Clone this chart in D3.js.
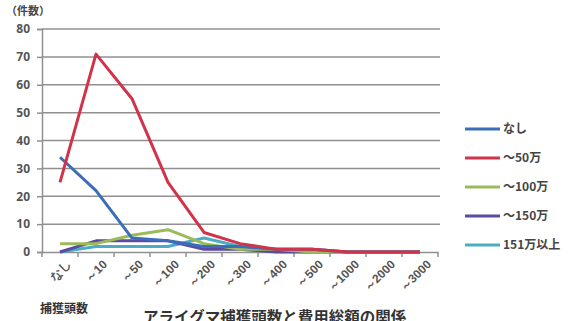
<!DOCTYPE html>
<html><head><meta charset="utf-8">
<script src="https://cdn.jsdelivr.net/npm/d3@7"></script>
<style>body{margin:0;background:#fff;font-family:"Noto Sans CJK JP","Noto Sans",sans-serif;}</style>
</head><body><svg id="c" width="579" height="321"></svg>
<script>
const categories = ["なし","～10","～50","～100","～200","～300","～400","～500","～1000","～2000","～3000"];
const seriesNames = ["なし","～50万","～100万","～150万","151万以上"];
const seriesColors = ["#3a6fb8","#d0334a","#9bbb59","#5b4a9e","#4bacc6"];
const sNashi  = [34,22,5,4,2,2,1,1,0,0,0];
const s50     = [25,71,55,25,7,3,1,1,0,0,0];
const s100    = [3,3,6,8,3,1,1,0,0,0,0];
const s150    = [0,4,4,4,1,1,0,0,0,0,0];
const s151    = [0,2,2,2,5,2,1,1,0,0,0];
const yTicks  = [0,10,20,30,40,50,60,70,80];
const series = [sNashi,s50,s100,s150,s151];

const svg = d3.select("#c");
const x = d3.scaleBand().domain(categories).range([42,438]);
const y = d3.scaleLinear().domain([0,80]).range([252,29]);

// gridlines
svg.append("g").selectAll("line").data(yTicks.filter(d=>d>0)).join("line")
  .attr("x1",42).attr("x2",440).attr("y1",d=>y(d)).attr("y2",d=>y(d))
  .attr("stroke","#909090").attr("stroke-width",1.5);

// y axis
const ya = svg.append("g").attr("transform","translate(42,0)")
  .call(d3.axisLeft(y).tickValues(yTicks).tickSize(5).tickPadding(7).tickFormat(d3.format("d")));
ya.select(".domain").attr("stroke","#909090").attr("stroke-width",1.5);
ya.selectAll(".tick line").attr("stroke","#909090").attr("stroke-width",1.5);
ya.selectAll("text").attr("fill","#555").style("font-size","12px").style("font-weight","bold").style("font-family","'Noto Sans',sans-serif");

// x axis
const xa = svg.append("g").attr("transform",`translate(0,${y(0)})`)
  .call(d3.axisBottom(x).tickSize(0).tickPadding(0));
xa.select(".domain").attr("stroke","#909090").attr("stroke-width",1.5);
xa.selectAll(".tick text").attr("fill","#555").style("font-size","12px").style("font-weight","bold")
  .attr("text-anchor","end").attr("y",0).attr("dy","0.35em")
  .attr("transform","translate(9,10) rotate(-45)");
// tick marks between categories
const bounds = categories.map(c=>x(c)).concat([x.range()[1]]);
svg.append("g").selectAll("line").data(bounds).join("line")
  .attr("x1",d=>d).attr("x2",d=>d).attr("y1",y(0)).attr("y2",y(0)+5)
  .attr("stroke","#909090").attr("stroke-width",1.5);

// lines
const line = d3.line().x((d,i)=>x(categories[i])+x.bandwidth()/2).y(d=>y(d));
[4,3,2,0,1].forEach(k=>{
  svg.append("path").datum(series[k]).attr("d",line).attr("fill","none")
    .attr("stroke",seriesColors[k]).attr("stroke-width",3).attr("stroke-linejoin","round");
});

// legend
const lg = svg.append("g");
seriesNames.forEach((n,i)=>{
  const yy = 129 + i*29;
  lg.append("line").attr("x1",465).attr("x2",500).attr("y1",yy).attr("y2",yy)
    .attr("stroke",seriesColors[i]).attr("stroke-width",3);
  lg.append("text").attr("x",503).attr("y",yy+4).text(n)
    .attr("fill","#444").style("font-size","12px").style("font-weight","bold");
});

// titles
svg.append("text").attr("x",6).attr("y",15).text("（件数）").attr("fill","#444")
  .style("font-size","11px").style("font-weight","bold");
svg.append("text").attr("x",40).attr("y",313).text("捕獲頭数").attr("fill","#333")
  .style("font-size","12px").style("font-weight","bold");
svg.append("text").attr("x",143).attr("y",323).text("アライグマ捕獲頭数と費用総額の関係").attr("fill","#333")
  .style("font-size","15.5px").style("font-weight","bold");
</script></body></html>
